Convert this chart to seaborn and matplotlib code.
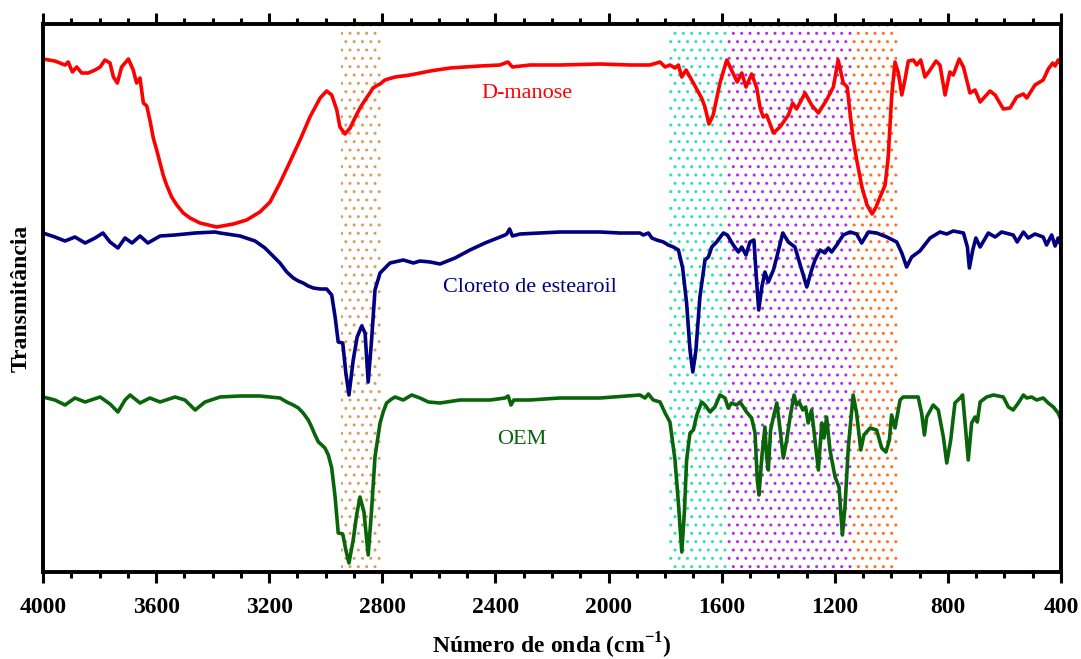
import numpy as np
import pandas as pd
import matplotlib
matplotlib.use("Agg")
import matplotlib.pyplot as plt
import seaborn as sns

# ---------------- data (wavenumber cm-1, transmittance in arbitrary offset units) -------------
manose_wn = [4000, 3958, 3922, 3911, 3896, 3881, 3863, 3840, 3816, 3798, 3781, 3763, 3751, 3737,
             3722, 3698, 3681, 3669, 3657, 3645, 3633, 3622, 3610, 3598, 3586, 3575, 3563, 3545,
             3527, 3504, 3480, 3445, 3386, 3327, 3280, 3233, 3197, 3162, 3127, 3091, 3056, 3020,
             2997, 2979, 2961, 2950, 2932, 2914, 2897, 2879, 2861, 2844, 2833, 2822, 2808, 2791,
             2755, 2702, 2631, 2561, 2455, 2384, 2356, 2340, 2278, 2172, 2030, 1924, 1853, 1818,
             1800, 1783, 1765, 1753, 1741, 1726, 1700, 1671, 1659, 1645, 1630, 1606, 1582, 1565,
             1545, 1529, 1514, 1494, 1476, 1464, 1453, 1441, 1417, 1394, 1364, 1349, 1335, 1305,
             1282, 1258, 1229, 1205, 1188, 1170, 1156, 1146, 1135, 1121, 1104, 1086, 1068, 1054,
             1040, 1022, 1011, 999, 987, 975, 963, 952, 940, 922, 910, 896, 881, 863, 842, 828,
             810, 793, 781, 760, 745, 722, 704, 686, 651, 633, 604, 580, 557, 533, 521, 492, 463,
             445, 429, 421, 410, 404, 401, 400]
manose_t = [513, 511, 507, 510, 500, 505, 499, 499, 502, 505, 512, 509, 495, 489,
            505, 513, 502, 489, 494, 469, 466, 452, 434, 422, 409, 397, 387, 375,
            367, 359, 354, 349, 345, 348, 352, 360, 370, 389, 410, 432, 455, 474,
            481, 477, 462, 445, 438, 444, 454, 464, 472, 479, 484, 486, 488, 492,
            495, 497, 501, 504, 506, 507, 510, 505, 507, 507, 508, 507, 507, 510,
            505, 507, 504, 507, 495, 502, 489, 474, 465, 448, 457, 489, 512, 502,
            490, 499, 485, 498, 484, 464, 455, 457, 439, 445, 457, 469, 463, 479,
            467, 459, 472, 485, 512, 489, 485, 459, 432, 410, 385, 367, 358, 365,
            375, 387, 415, 475, 510, 499, 477, 492, 511, 512, 507, 512, 495, 502, 511, 507,
            477, 500, 497, 513, 505, 479, 482, 470, 481, 477, 463, 464, 475, 478, 474, 487, 492,
            503, 509, 506, 512, 509, 510, 415]

cloreto_wn = [4000, 3958, 3922, 3887, 3851, 3816, 3788, 3763, 3735, 3710, 3685, 3657, 3629, 3586,
              3533, 3462, 3392, 3374, 3303, 3250, 3215, 3190, 3162, 3138, 3115, 3097, 3080, 3062,
              3044, 3020, 2997, 2979, 2967, 2956, 2940, 2929, 2918, 2903, 2889, 2873, 2861, 2850,
              2838, 2826, 2808, 2773, 2726, 2690, 2667, 2631, 2596, 2543, 2490, 2437, 2384, 2366,
              2360, 2350, 2340, 2313, 2242, 2172, 2030, 1960, 1889, 1877, 1859, 1847, 1830, 1806,
              1789, 1771, 1753, 1738, 1724, 1712, 1702, 1691, 1677, 1659, 1647, 1635, 1618, 1594,
              1580, 1559, 1541, 1529, 1514, 1500, 1486, 1476, 1469, 1458, 1447, 1435, 1417, 1405,
              1384, 1364, 1341, 1317, 1299, 1282, 1270, 1252, 1235, 1223, 1211, 1193, 1170, 1146,
              1123, 1105, 1081, 1052, 1016, 981, 963, 946, 928, 899, 863, 828, 804, 781, 745, 731,
              724, 712, 701, 686, 657, 633, 610, 569, 555, 533, 516, 492, 463, 451, 433, 421, 410,
              404, 401, 400]
cloreto_t = [339, 335, 331, 335, 329, 334, 339, 330, 324, 334, 329, 336, 329, 336,
             337, 339, 340, 339, 336, 331, 324, 317, 309, 300, 294, 291, 289, 286,
             284, 283, 283, 277, 255, 230, 229, 199, 177, 212, 235, 246, 239, 190,
             232, 282, 299, 309, 312, 309, 311, 310, 308, 314, 322, 329, 335, 337,
             338, 343, 336, 338, 339, 340, 340, 339, 339, 337, 339, 334, 332, 330,
             327, 325, 322, 304, 269, 222, 200, 222, 275, 312, 315, 325, 330, 339,
             337, 327, 320, 325, 317, 330, 332, 289, 262, 285, 300, 290, 302, 315,
             339, 330, 325, 302, 285, 302, 312, 322, 319, 324, 320, 327, 337, 340,
             338, 329, 340, 339, 335, 330, 319, 305, 315, 321, 334, 340, 338, 341, 339, 325,
             304, 322, 334, 325, 339, 335, 340, 337, 330, 340, 334, 338, 335, 327, 337, 326, 334,
             329, 330, 314]

oem_wn = [4000, 3958, 3922, 3887, 3851, 3798, 3763, 3735, 3710, 3692, 3657, 3622, 3586, 3533,
          3498, 3462, 3427, 3374, 3303, 3233, 3162, 3138, 3115, 3097, 3080, 3062, 3050, 3038,
          3026, 3014, 3003, 2991, 2979, 2967, 2956, 2940, 2929, 2918, 2903, 2891, 2879, 2865,
          2850, 2838, 2826, 2808, 2797, 2785, 2767, 2755, 2726, 2696, 2667, 2637, 2596, 2525,
          2419, 2366, 2355, 2345, 2335, 2278, 2172, 2030, 1889, 1871, 1859, 1842, 1818, 1800,
          1783, 1765, 1753, 1741, 1732, 1724, 1712, 1700, 1688, 1671, 1659, 1641, 1624, 1606,
          1588, 1577, 1565, 1547, 1535, 1512, 1494, 1482, 1474, 1468, 1458, 1447, 1441, 1435,
          1427, 1417, 1405, 1396, 1382, 1370, 1358, 1344, 1335, 1326, 1313, 1303, 1294, 1282,
          1270, 1258, 1246, 1238, 1229, 1217, 1199, 1185, 1173, 1164, 1152, 1135, 1123, 1108,
          1097, 1075, 1052, 1034, 1019, 1007, 999, 987, 969, 958, 905, 893, 883, 875, 852, 834,
          816, 804, 790, 775, 757, 748, 737, 728, 716, 704, 696, 686, 663, 639, 604, 586, 569,
          551, 533, 521, 504, 486, 463, 445, 427, 410, 404, 401, 400]
oem_t = [175, 172, 167, 174, 170, 175, 168, 160, 172, 177, 169, 174, 170, 175,
         172, 162, 170, 175, 176, 176, 174, 170, 167, 164, 159, 152, 145, 137,
         130, 127, 124, 117, 104, 75, 39, 38, 22, 9, 32, 57, 75, 60,
         17, 62, 115, 149, 160, 169, 173, 175, 172, 177, 174, 170, 169, 172,
         172, 174, 176, 167, 172, 172, 174, 174, 177, 174, 178, 172, 170, 159,
         150, 112, 69, 20, 59, 112, 139, 142, 157, 170, 167, 160, 165, 177,
         174, 164, 169, 167, 170, 160, 154, 139, 92, 77, 115, 145, 115, 102,
         142, 155, 169, 149, 114, 132, 155, 177, 167, 170, 162, 165, 149, 162,
         132, 102, 149, 134, 155, 122, 95, 85, 37, 65, 125, 177, 159, 122,
         137, 144, 142, 124, 120, 132, 157, 144, 172, 175, 175, 159, 137, 155, 167, 162,
         135, 109, 132, 169, 174, 177, 142, 112, 149, 155, 150, 170, 175, 177, 175, 165, 162,
         169, 177, 174, 175, 172, 174, 169, 165, 159, 155, 153, 127]

series_names = ["D-manose", "Cloreto de estearoil", "OEM"]
series_colors = ["#FF0000", "#000080", "#0A640A"]

# highlighted bands (cm-1)
band_edges = [(2945, 2805), (1790, 1580), (1580, 1135), (1135, 975)]
band_colors = ["#D8A060", "#30E0B0", "#B030E8", "#FF7020"]

x_ticks = [4000, 3600, 3200, 2800, 2400, 2000, 1600, 1200, 800, 400]

# ---------------- build a long table -------------
frames = []
for name, wn, t in zip(series_names, [manose_wn, cloreto_wn, oem_wn], [manose_t, cloreto_t, oem_t]):
    frames.append(pd.DataFrame({"wn": wn, "T": t, "amostra": name}))
df = pd.concat(frames, ignore_index=True)

# ---------------- style -------------
sns.set_style("ticks")
plt.rcParams["font.family"] = ["Liberation Serif", "DejaVu Serif"]
plt.rcParams["mathtext.fontset"] = "custom"
plt.rcParams["mathtext.bf"] = "Liberation Serif:bold"
plt.rcParams["mathtext.rm"] = "Liberation Serif:bold"
plt.rcParams["hatch.linewidth"] = 1.0
plt.rcParams["text.color"] = "black"
plt.rcParams["axes.labelcolor"] = "black"
plt.rcParams["xtick.color"] = "black"
plt.rcParams["axes.edgecolor"] = "black"

fig = plt.figure(figsize=(10.81, 6.59), dpi=100)
ax = fig.add_axes([43 / 1081, 1 - 572 / 659, (1061 - 43) / 1081, (572 - 24) / 659])

for (x0, x1), c in zip(band_edges, band_colors):
    ax.axvspan(x1, x0, facecolor="none", edgecolor=c, hatch="..", linewidth=0, zorder=0)

sns.lineplot(data=df, x="wn", y="T", hue="amostra", palette=dict(zip(series_names, series_colors)),
             estimator=None, sort=True, linewidth=2.6, legend=False, ax=ax, zorder=3)

ax.set_xlim(4000, 400)
ax.set_ylim(0, 548)
ax.set_xticks(x_ticks)
ax.set_xticks(np.arange(400, 4001, 100), minor=True)
ax.set_yticks([])

for lbl in ax.get_xticklabels():
    lbl.set_fontweight("bold")
    lbl.set_fontsize(17)

ax.tick_params(axis="x", which="major", direction="out", length=8, width=2.2, top=True, pad=10,
               color="black", labelcolor="black")
ax.tick_params(axis="x", which="minor", direction="out", length=4, width=2.2, top=True, color="black")
for s in ax.spines.values():
    s.set_visible(True)
    s.set_linewidth(2.8)
    s.set_color("black")
    s.set_zorder(5)

ax.set_xlabel(r"Número de onda (cm$^{\mathbf{-1}}$)", fontsize=17, fontweight="bold", labelpad=9)
ax.set_ylabel("Transmitância", fontsize=17, fontweight="bold", labelpad=8)

label_pos = [(2288, 479), (2278, 285), (2306, 132)]
for name, c, (xx, yy) in zip(series_names, series_colors, label_pos):
    ax.text(xx, yy, name, color=c, fontsize=16, ha="center", va="center")

fig.savefig("out.png", dpi=100)
